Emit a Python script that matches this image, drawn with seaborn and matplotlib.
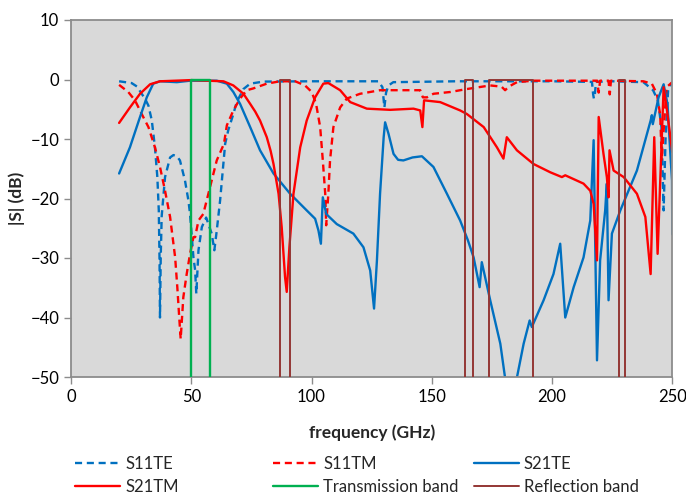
import matplotlib
matplotlib.use("Agg")
import matplotlib.pyplot as plt
import seaborn as sns
import pandas as pd
from matplotlib.lines import Line2D

# values (frequency in GHz, |S| in dB)
s11te_f = [20, 25.2, 27.5, 29.4, 31, 32.2, 33.6, 34.9, 35.9, 36.5, 36.8, 37.0, 37.3, 37.7, 39.1,
           41.2, 42.6, 44, 45.3, 47.4, 48.8, 49.5, 50.9, 51.6, 52.1, 53, 54.4, 56.2, 58.5, 59.6,
           60.6, 62, 63.1, 64.1, 65.4, 67.5, 68.9, 71.7, 74.5, 80, 100, 127.8, 129.5, 130.3, 131,
           132, 134, 160, 200, 216.6, 217.1, 217.4, 217.8, 218.3, 225, 238, 242, 244, 245.5,
           246.4, 247.2, 248.3, 250]
s11te_db = [-0.3, -0.6, -1.2, -2.4, -3.4, -4.4, -6.9, -11.4, -16.4, -22, -30, -40, -30, -23, -16.4,
            -13.1, -12.7, -12.9, -13.6, -17, -20.3, -22.6, -29.9, -32, -36, -28.7, -24.8, -23.2, -25.9, -28.7,
            -25.4, -20.3, -15.3, -10.8, -8.5, -5.8, -3.8, -1.6, -0.7, -0.35, -0.3, -0.3, -1.3, -4.7, -2.2,
            -1, -0.45, -0.3, -0.3, -0.4, -2.5, -3.2, -2.5, -0.4, -0.3, -0.45, -1.8, -3.5, -8,
            -22, -10, -1.5, -0.5]

s11tm_f = [20, 23.8, 26.6, 29.4, 32.2, 34.9, 37, 39.1, 41.2, 43.3, 44.2, 45, 45.6, 46.7, 48.1,
           49.5, 50.9, 51.6, 53, 55, 57.8, 60.6, 63.6, 64.8, 67.5, 70.3, 73.1, 75.8, 81.4, 86.9,
           93.2, 97.3, 100.1, 101.9, 103.6, 104.7, 105.7, 106.1, 107, 107.7, 109.1, 111.9, 114.7,
           120.2, 128.5, 145.2, 146.3, 148, 150.7, 157.7, 164.6, 174.3, 179, 180.5, 182, 185.4,
           192, 218.8, 219.4, 220, 223.5, 224, 224.5, 238, 241.5, 243.6, 245, 245.6, 246.5,
           247.6, 250]
s11tm_db = [-0.9, -2.1, -3.5, -5.8, -8, -11.4, -14.7, -18.7, -23.1, -29.9, -34.9, -40, -43.6, -36.6, -32.7,
            -29.3, -26.5, -26.5, -23.7, -22.6, -18.1, -13.6, -10.8, -7.7, -5.2, -3.2, -1.8, -1.5, -0.7, -0.3,
            -0.3, -1, -2.1, -4.1, -8, -13.6, -19.2, -24.5, -19.2, -13.6, -8, -4.7, -3.2,
            -2.4, -1.8, -1.8, -3, -3, -2.4, -2.1, -1.6, -1, -1.2, -1.8, -1.2, -0.45,
            -0.2, -0.2, -2.2, -0.2, -0.2, -2.5, -0.2, -0.3, -0.7, -2.4, -6, -13.6, -8,
            -1.3, -0.45]

s21te_f = [20, 24.5, 28.7, 31.5, 34.2, 37, 44, 49.5, 60.6, 64.8, 67.5, 70.3, 74.5, 78.6, 84.2,
           91.1, 98, 101.5, 102.9, 103.9, 104.7, 106.1, 110.5, 117.4, 121.6, 124.4, 126, 127.2,
           128.5, 130, 130.6, 132, 134.1, 136, 138.2, 142, 145.9, 150.7, 156.3, 161.8, 165, 167.4,
           169.9, 170.8, 174.3, 178.5, 182.5, 188.2, 190.7, 191.6, 196.5, 200.6, 203.4, 205.5,
           209, 213.1, 215.9, 217.3, 218.7, 220, 222.1, 222.8, 223.5, 224.9, 228.4, 235.3, 241,
           241.5, 241.9, 244.3, 246.4, 248, 249.2, 249.9, 250]
s21te_db = [-15.8, -11.4, -6.3, -3, -0.7, -0.3, -0.45, -0.2, -0.2, -0.7, -2.1, -4.1, -8, -11.9, -15.8,
            -19.2, -22, -23.4, -25.4, -27.6, -19.8, -22.6, -24.3, -25.9, -28.2, -32.1, -38.5, -30.4,
            -19.2, -9.7, -7.2, -9.1, -12.5, -13.5, -13.6, -13.1, -12.9, -14.7, -19.2, -23.7, -27, -29.9,
            -34.9, -30.7, -37.1, -44.4, -56, -44.4, -40.5, -41.6, -37.1, -32.7, -27.6, -40,
            -34.9, -29.9, -23.7, -10.2, -47.2, -30.4, -22, -17.5, -37.1, -25.9, -22, -15.3, -6.9,
            -6, -7.5, -3, -0.8, -4.1, -12.5, -17, -26]

s21tm_f = [20, 24.5, 28.7, 32.9, 37, 50, 63.4, 67.5, 71.7, 74.5, 76.6, 78.6, 81.4, 83, 84.2, 86.3,
           87.6, 89, 89.7, 90.8, 92.5, 95.3, 98, 101.5, 104.9, 107, 111.9, 116.1, 123, 132.7, 142.4,
           145.2, 146.1, 146.8, 153.5, 161.8, 164.6, 171.6, 177.1, 179.8, 181.2, 185.4, 192.3,
           199.3, 204.1, 205.5, 213.1, 215.9, 217.3, 218.7, 219.4, 221.4, 222.8, 223.5, 223.9,
           225.6, 229.8, 235.3, 238.8, 241, 242.5, 243.9, 245.3, 246.4, 247.8, 250]
s21tm_db = [-7.3, -4.7, -2.4, -0.8, -0.3, -0.1, -0.3, -1, -2.4, -4.1, -5.4, -6.9, -9.7, -12, -14.2, -19.2,
            -24.8, -33.2, -35.7, -28.2, -19.2, -11.4, -6.9, -3, -0.7, -0.6, -1.8, -3.8, -4.9, -5.1, -4.9,
            -5.2, -8, -3.5, -3.8, -5.2, -5.8, -8, -11.4, -13.3, -9.7, -11.9, -14.2,
            -15.6, -16.4, -16.1, -17.5, -18.7, -20.9, -30.4, -6.3, -12.5, -16.4, -19.8, -11.9,
            -15.3, -16.4, -19.2, -23.1, -32.7, -9.7, -29.3, -13.6, -1.3, -5.2, -12.2]

trans_band = [(50, 58)]
refl_bands = [(87, 91), (164, 167), (174, 192), (228, 230.3)]

blue = "#0070C0"
red = "#FF0000"
green = "#00B050"
brown = "#943634"

sns.set_style("ticks", {"axes.facecolor": "#D9D9D9", "axes.edgecolor": "#8C8C8C"})
plt.rcParams["font.family"] = ["Lato", "DejaVu Sans"]

fig = plt.figure(figsize=(6.86, 5), dpi=100)
ax = fig.add_axes([0.1035, 0.246, 0.8765, 0.714])

series = [
    ("S11TE", s11te_f, s11te_db, blue, (0, (3, 2))),
    ("S11TM", s11tm_f, s11tm_db, red, (0, (3, 2))),
    ("S21TE", s21te_f, s21te_db, blue, "-"),
    ("S21TM", s21tm_f, s21tm_db, red, "-"),
]
handles = {}
for name, f, db, col, ls in series:
    df = pd.DataFrame({"f": f, "db": db})
    sns.lineplot(data=df, x="f", y="db", ax=ax, color=col, lw=1.7, linestyle=ls,
                 sort=False, estimator=None)
    handles[name] = Line2D([], [], color=col, lw=1.7, linestyle=ls)

# band outlines: two sides and a top at 0 dB, open at the bottom
for bands, col, w in [(trans_band, green, 1.7), (refl_bands, brown, 1.4)]:
    for lo, hi in bands:
        ax.plot([lo, lo, hi, hi], [-50, 0, 0, -50], color=col, lw=w, zorder=3)
handles["Transmission band"] = Line2D([], [], color=green, lw=1.7)
handles["Reflection band"] = Line2D([], [], color=brown, lw=1.4)

ax.set_xlim(0, 250)
ax.set_ylim(-50, 10)
ax.set_xticks(range(0, 251, 50))
ax.set_yticks(range(-50, 11, 10))
ax.tick_params(labelsize=12, colors="#8C8C8C", labelcolor="black", length=5, width=1)
for s in ax.spines.values():
    s.set_visible(True)
    s.set_linewidth(1.3)
ax.set_xlabel("frequency (GHz)", fontsize=12.5, fontweight="bold", labelpad=14)
ax.set_ylabel("|S| (dB)", fontsize=12.5, fontweight="bold", labelpad=4)

cols = [(["S11TE", "S21TM"], 75), (["S11TM", "Transmission band"], 273),
        (["S21TE", "Reflection band"], 474)]
for names, px in cols:
    fig.legend([handles[n] for n in names], names, loc="upper left",
               bbox_to_anchor=(px / 686, 1 - 456 / 500), frameon=False, fontsize=12,
               borderpad=0, borderaxespad=0, handlelength=2.7, handletextpad=0.3,
               labelspacing=0.4)

fig.savefig("out.png", dpi=100)
